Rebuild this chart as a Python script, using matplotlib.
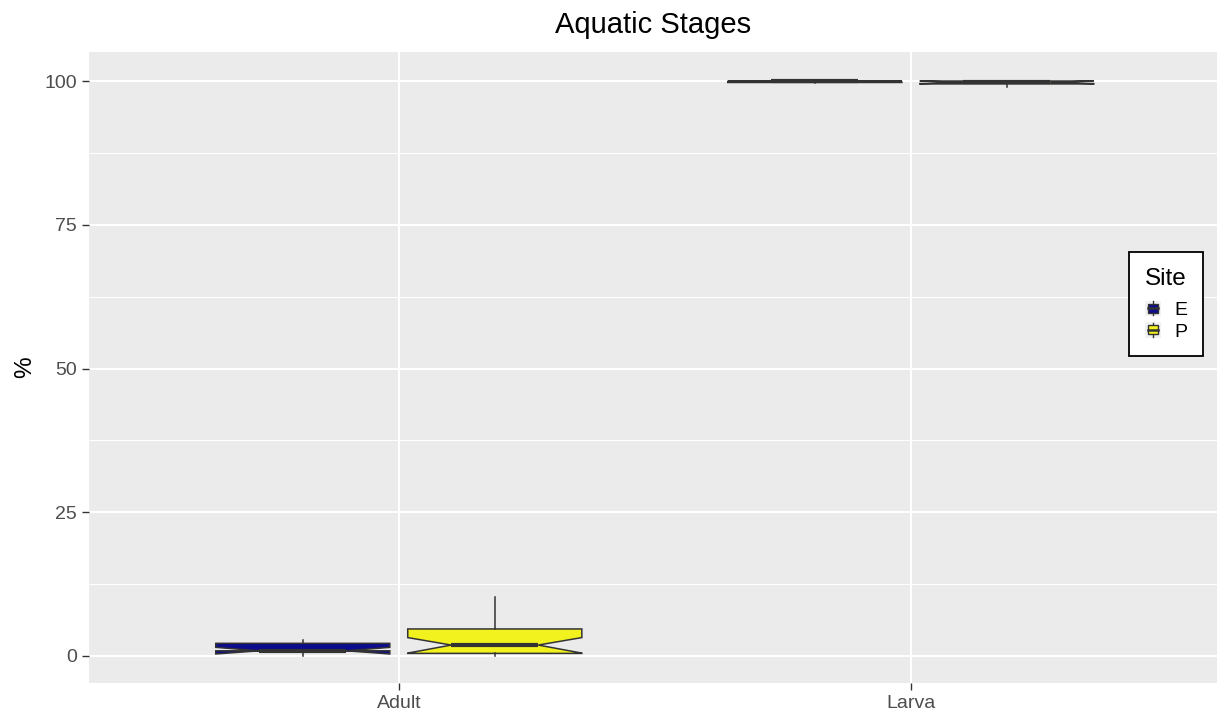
import matplotlib
matplotlib.use("Agg")
import matplotlib.pyplot as plt
from matplotlib.legend_handler import HandlerBase
from matplotlib.patches import Rectangle
from matplotlib.lines import Line2D

plt.rcParams['font.family'] = ['Liberation Sans', 'DejaVu Sans']

# ---- data ----
stages = ["Adult", "Larva"]
sites = ["E", "P"]
site_colors = {"E": "#0c0c8c", "P": "#f2f21e"}

# per stage, per site: whislo, q1, median, q3, whishi, notch low, notch high
E_whislo = [0.0, 99.6]
E_q1 = [0.9, 99.75]
E_med = [0.9, 100.0]
E_q3 = [2.2, 100.0]
E_whishi = [2.7, 100.0]
E_cilo = [0.35, 99.85]
E_cihi = [1.5, 100.0]

P_whislo = [0.0, 99.0]
P_q1 = [0.45, 99.5]
P_med = [1.9, 99.75]
P_q3 = [4.7, 100.0]
P_whishi = [10.3, 100.0]
P_cilo = [0.5, 99.55]
P_cihi = [3.2, 100.0]

title = "Aquatic Stages"
ylabel = "%"
yticks = [0, 25, 50, 75, 100]

data = {
    "E": (E_whislo, E_q1, E_med, E_q3, E_whishi, E_cilo, E_cihi),
    "P": (P_whislo, P_q1, P_med, P_q3, P_whishi, P_cilo, P_cihi),
}

W, H = 1217, 721
fig = plt.figure(figsize=(W / 100, H / 100), dpi=100)
ax = fig.add_axes([89 / W, 1 - 683 / H, (W - 89) / W, (683 - 52) / H])
ax.set_facecolor("#EBEBEB")
for s in ax.spines.values():
    s.set_visible(False)

edge = "#333333"
box_lw = 1.1
offset = 0.1875
bw = 0.34

for si, site in enumerate(sites):
    wl, q1, med, q3, wh, clo, chi = data[site]
    stats = []
    for i in range(len(stages)):
        stats.append(dict(whislo=wl[i], q1=q1[i], med=med[i], q3=q3[i],
                          whishi=wh[i], cilo=clo[i], cihi=chi[i], fliers=[]))
    pos = [i + 1 + (offset if si == 1 else -offset) for i in range(len(stages))]
    ax.bxp(stats, positions=pos, widths=bw, shownotches=True, patch_artist=True,
           showcaps=False, showfliers=False, manage_ticks=False,
           boxprops=dict(facecolor=site_colors[site], edgecolor=edge, linewidth=box_lw),
           whiskerprops=dict(color=edge, linewidth=box_lw),
           medianprops=dict(color=edge, linewidth=3.0, solid_capstyle='butt'),
           zorder=3)

ax.set_xlim(0.395, 2.598)
ax.set_ylim(-4.7, 105.05)
ax.set_xticks([1, 2])
ax.set_xticklabels(stages)
ax.set_yticks(yticks)
ax.set_yticks([12.5, 37.5, 62.5, 87.5], minor=True)
ax.grid(True, which='major', color='white', linewidth=1.5, zorder=0)
ax.grid(True, which='minor', axis='y', color='white', linewidth=0.75, zorder=0)
ax.set_axisbelow(True)
ax.tick_params(axis='both', which='major', length=5, width=1.0, color=edge,
               labelcolor="#4D4D4D", labelsize=14, pad=3.5)
ax.tick_params(axis='both', which='minor', length=0)
ax.set_ylabel(ylabel, fontsize=17.5, color='black', labelpad=6)
fig.text((89 + W) / 2 / W, 1 - 25 / H, title, ha='center', va='center', fontsize=21)


class BoxHandler(HandlerBase):
    def __init__(self, color):
        super().__init__()
        self.color = color

    def create_artists(self, legend, orig_handle, xdescent, ydescent, width, height, fontsize, trans):
        bg = Rectangle((-xdescent, -ydescent), width, height, facecolor="#F2F2F2",
                       edgecolor='none', transform=trans)
        cx = -xdescent + width / 2
        bwid = width * 0.6
        bh = height * 0.6
        by = -ydescent + height * 0.2
        wl = Line2D([cx, cx], [-ydescent + height * 0.05, -ydescent + height * 0.95],
                    color=edge, linewidth=1.0, transform=trans)
        box = Rectangle((cx - bwid / 2, by), bwid, bh, facecolor=self.color,
                        edgecolor=edge, linewidth=1.0, transform=trans)
        md = Line2D([cx - bwid / 2, cx + bwid / 2], [by + bh / 2, by + bh / 2],
                    color=edge, linewidth=1.8, transform=trans)
        return [bg, wl, box, md]


handles = [Rectangle((0, 0), 1, 1) for _ in sites]
hmap = {h: BoxHandler(site_colors[s]) for h, s in zip(handles, sites)}
leg = fig.legend(handles, sites, handler_map=hmap, title="Site",
                 loc='upper left', bbox_to_anchor=(1129 / W, 1 - 252 / H),
                 fontsize=14, title_fontsize=17.5, frameon=True, fancybox=False,
                 edgecolor='black', facecolor='white', framealpha=1,
                 handlelength=0.85, handleheight=0.85, labelspacing=0.15,
                 handletextpad=0.7, borderpad=0.8, borderaxespad=0)
leg.get_frame().set_linewidth(1.3)
leg._legend_box.align = "left"
leg._legend_box.sep = 8

fig.savefig("out.png", dpi=100)
